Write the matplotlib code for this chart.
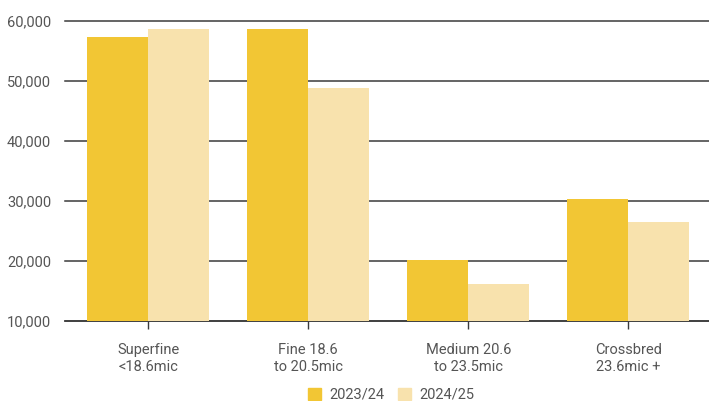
import numpy as np
import matplotlib.pyplot as plt
from matplotlib.patches import Patch

# Categorias y valores por temporada
categorias = ['Superfine\n<18.6mic', 'Fine 18.6\nto 20.5mic',
              'Medium 20.6\nto 23.5mic', 'Crossbred\n23.6mic +']
temporadas = ['2023/24', '2024/25']
valores_2324 = [57250, 58600, 20100, 30250]
valores_2425 = [58600, 48750, 16100, 26400]
ticks_y = [10000, 20000, 30000, 40000, 50000, 60000]

color_2324 = '#f2c634'
color_2425 = '#f8e2ad'
color_texto = '#555555'
color_linea = '#3a3a3a'

plt.rcParams['font.family'] = ['Roboto', 'DejaVu Sans']

fig = plt.figure(figsize=(7.09, 4.01), dpi=100)
ax = fig.add_axes([65 / 709, 1 - 320.5 / 401, 644 / 709, 300 / 401])

x = np.arange(len(categorias))
ancho = 0.38
ax.bar(x - ancho / 2, valores_2324, ancho, color=color_2324, zorder=3)
ax.bar(x + ancho / 2, valores_2425, ancho, color=color_2425, zorder=3)

ax.set_ylim(10000, 60000)
ax.set_xlim(-0.52, 3.505)
ax.set_yticks(ticks_y)
ax.set_yticklabels([f'{v:,}' for v in ticks_y])
ax.yaxis.grid(True, color=color_linea, linewidth=1.1, zorder=1)
for g in ax.get_ygridlines():
    g.set_clip_on(False)
ax.set_axisbelow(True)

for lado in ['top', 'right', 'left']:
    ax.spines[lado].set_visible(False)
ax.spines['bottom'].set_color(color_linea)
ax.spines['bottom'].set_linewidth(1.1)

ax.set_xticks(x)
ax.set_xticklabels(categorias, linespacing=1.3)
ax.tick_params(axis='x', length=6, width=1, color=color_linea, pad=10,
               labelsize=10.5, labelcolor=color_texto)
ax.tick_params(axis='y', length=0, pad=10, labelsize=10.5, labelcolor=color_texto)

handles = [Patch(color=color_2324), Patch(color=color_2425)]
fig.legend(handles, temporadas, loc='lower center', ncol=2, frameon=False,
           bbox_to_anchor=(0.552, -0.035), fontsize=10.5, labelcolor=color_texto,
           handlelength=0.9, handleheight=0.9, columnspacing=0.9, handletextpad=0.6)

fig.savefig('out.png', dpi=100)
